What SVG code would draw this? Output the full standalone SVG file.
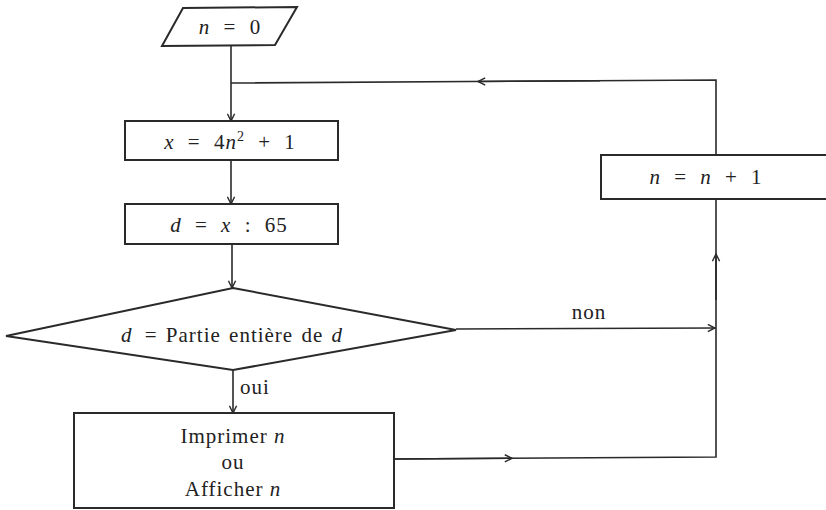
<svg xmlns="http://www.w3.org/2000/svg" width="826" height="510" viewBox="0 0 826 510">
<style>
.s{fill:#fff;stroke:#2a2a2a;stroke-width:2}
.c{fill:none;stroke:#2a2a2a;stroke-width:1.6}
.t{font-family:"Liberation Serif",serif;font-size:21px;fill:#222;text-anchor:middle;letter-spacing:1px}
.f{word-spacing:7px}
.i{font-style:italic}
</style>
<defs>
<marker id="a" viewBox="0 0 10 10" refX="9" refY="5" markerWidth="9" markerHeight="9" markerUnits="userSpaceOnUse" orient="auto">
<path d="M1,1 L9,5 L1,9" fill="none" stroke="#2a2a2a" stroke-width="1.6"/>
</marker>
</defs>
<rect width="826" height="510" fill="#fff"/>
<g id="start">
<polygon class="s" points="183,8 297,7 275,45 162,46"/>
<text class="t f" x="230" y="34"><tspan class="i">n</tspan> = 0</text>
</g>
<g id="calcx">
<rect class="s" x="125" y="121" width="213" height="39"/>
<text class="t f" x="230" y="149"><tspan class="i">x</tspan> = 4<tspan class="i">n</tspan><tspan font-size="14" dy="-8">2</tspan><tspan dy="8"> + 1</tspan></text>
</g>
<g id="calcd">
<rect class="s" x="125" y="204" width="213" height="40"/>
<text class="t f" x="229" y="232"><tspan class="i">d</tspan> = <tspan class="i">x</tspan> : 65</text>
</g>
<g id="test">
<polygon class="s" points="233,288 456,330 233,370 6,336"/>
<text class="t" x="232" y="342" word-spacing="2"><tspan class="i">d</tspan> <tspan dx="4">=</tspan> Partie entière de <tspan class="i">d</tspan></text>
</g>
<g id="print">
<rect class="s" x="74" y="413" width="320" height="95"/>
<text class="t" x="233" y="443">Imprimer <tspan class="i">n</tspan></text>
<text class="t" x="233" y="469">ou</text>
<text class="t" x="233" y="496">Afficher <tspan class="i">n</tspan></text>
</g>
<g id="incr">
<rect class="s" x="601" y="155" width="240" height="44"/>
<text class="t f" x="706" y="184"><tspan class="i">n</tspan> = <tspan class="i">n</tspan> + 1</text>
</g>
<g id="connectors">
<line class="c" x1="231" y1="46" x2="231" y2="121" marker-end="url(#a)"/>
<polyline class="c" points="716,155 716,80 231,83"/>
<line class="c" x1="600" y1="80.7" x2="478" y2="81.5" marker-end="url(#a)"/>
<line class="c" x1="231" y1="160" x2="231" y2="204" marker-end="url(#a)"/>
<line class="c" x1="232" y1="244" x2="232" y2="288" marker-end="url(#a)"/>
<line class="c" x1="456" y1="329" x2="715" y2="328" marker-end="url(#a)"/>
<line class="c" x1="233" y1="370" x2="233" y2="413" marker-end="url(#a)"/>
<polyline class="c" points="394,459 716,457 716,199"/>
<line class="c" x1="394" y1="459" x2="512" y2="458.3" marker-end="url(#a)"/>
<line class="c" x1="716" y1="300" x2="716" y2="254" marker-end="url(#a)"/>
<text class="t" x="589" y="319">non</text>
<text class="t" x="255" y="394">oui</text>
</g>
</svg>
